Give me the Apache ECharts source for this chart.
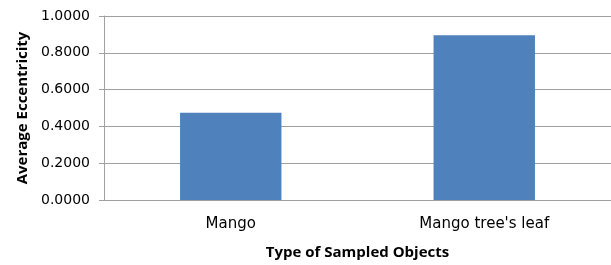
<!DOCTYPE html>
<html><head><meta charset="utf-8">
<script src="https://cdn.jsdelivr.net/npm/echarts@6/dist/echarts.min.js"></script>
<style>html,body{margin:0;padding:0;background:#fff}#c{width:611px;height:265px}</style>
</head><body><div id="c"></div>
<script>
const categories = ["Mango", "Mango tree's leaf"];
const values = [0.474, 0.895];
const yTicks = {min: 0, max: 1, interval: 0.2};
const xTitle = "Type of Sampled Objects";
const yTitle = "Average Eccentricity";

const chart = echarts.init(document.getElementById('c'), null, {renderer: 'canvas'});
chart.setOption({
  animation: false,
  grid: {left: 104, right: 0, top: 16, bottom: 61, containLabel: false},
  xAxis: {
    type: 'category', data: categories,
    name: xTitle, nameLocation: 'middle', nameGap: 45,
    nameTextStyle: {fontFamily: 'Open Sans', fontWeight: 'bold', fontSize: 15, color: '#000'},
    axisLine: {lineStyle: {color: '#a0a0a0', width: 1}},
    axisTick: {show: false},
    axisLabel: {fontFamily: 'DejaVu Sans', fontSize: 15, color: '#000', margin: 17}
  },
  yAxis: {
    type: 'value', min: yTicks.min, max: yTicks.max, interval: yTicks.interval,
    name: yTitle, nameLocation: 'middle', nameGap: 74, nameRotate: 90,
    nameTextStyle: {fontFamily: 'Open Sans', fontWeight: 'bold', fontSize: 15, color: '#000'},
    axisLine: {show: true, lineStyle: {color: '#a0a0a0', width: 1}},
    axisTick: {show: true, length: 5, lineStyle: {color: '#a0a0a0'}},
    splitLine: {lineStyle: {color: '#a0a0a0', width: 1}},
    axisLabel: {fontFamily: 'DejaVu Sans', fontSize: 14, color: '#000', margin: 14,
      formatter: v => v.toFixed(4)}
  },
  series: [{
    type: 'bar', data: values, barWidth: '40%',
    itemStyle: {color: '#4f81bd'}
  }]
});
</script></body></html>
